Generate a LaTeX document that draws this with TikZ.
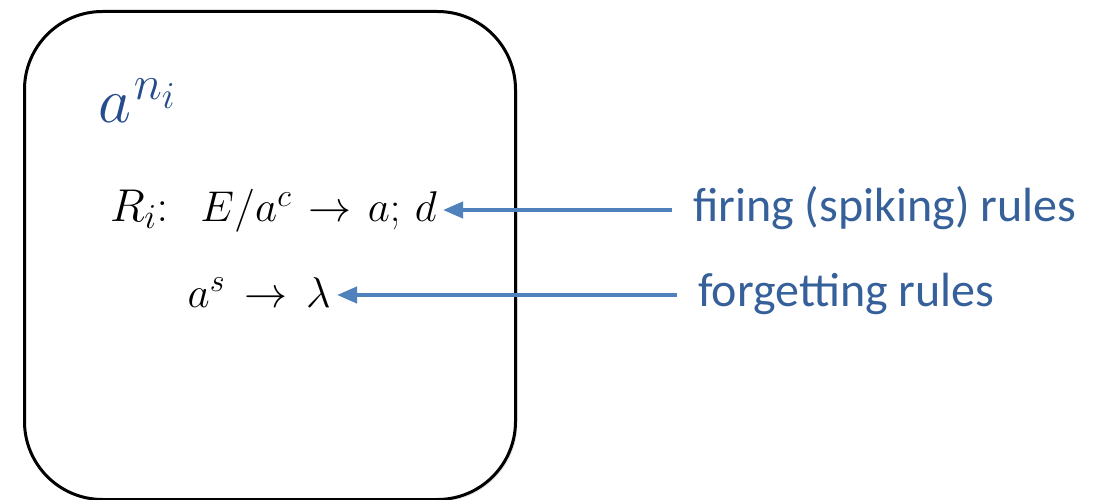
\RequirePackage{fix-cm}
\documentclass[tikz,border=0pt]{standalone}
\usepackage[no-math]{fontspec}
\setmainfont{Carlito}
\DeclareMathSizes{64}{64}{48}{38}
\DeclareMathSizes{46}{46}{35}{27}
\DeclareMathSizes{43}{43}{32}{24}
\usetikzlibrary{arrows.meta,shadows}
\definecolor{arrblue}{HTML}{4F81BD}
\definecolor{txtblue}{HTML}{36609A}
\definecolor{mathblue}{HTML}{254C8C}
\tikzset{
  cellbox/.style={draw=black,line width=3pt,rounded corners=78pt,fill=white,
    drop shadow={opacity=0.18,shadow xshift=2pt,shadow yshift=-2pt}},
  rulelab/.style={text=txtblue,font=\fontsize{48}{52}\selectfont,inner xsep=21pt,inner ysep=0pt},
  mathtxt/.style={inner xsep=6pt,inner ysep=0pt,font=\fontsize{43}{48}\selectfont},
  arr/.style={draw=arrblue,line width=4pt,-{Triangle[length=20pt,width=16pt]}}
}
\begin{document}
\begin{tikzpicture}[x=1pt,y=-1pt]
\useasboundingbox (0,0) rectangle (1109,500);
\node[cellbox,minimum width=491pt,minimum height=488pt,anchor=north west] (box) at (23,10) {};
\node[anchor=base west,inner sep=0pt,text=mathblue,font=\fontsize{64}{70}\selectfont] (amult) at (98,123) {$a^{\mkern1mu n_i}$};
\node[anchor=base west,inner sep=0pt,font=\fontsize{46}{50}\selectfont] (ri) at (110,221) {$R_i{:}$};
\node[mathtxt,anchor=base east] (rule1) at (443,222) {$E/a^c \mathrel{\mkern2mu\rightarrow\mkern2mu} a;\, d$};
\node[mathtxt,anchor=base east] (rule2) at (337,307) {$a^s \mathrel{\mkern3mu\rightarrow\mkern3mu} \lambda$};
\node[rulelab,anchor=base west] (lab1) at (672,222) {firing (spiking) rules};
\node[rulelab,anchor=base west] (lab2) at (677,306) {forgetting rules};
\draw[arr] ([yshift=12pt]lab1.base west) -- ([yshift=12pt]rule1.base east);
\draw[arr] ([yshift=11pt]lab2.base west) -- ([yshift=12pt]rule2.base east);
\end{tikzpicture}
\end{document}
